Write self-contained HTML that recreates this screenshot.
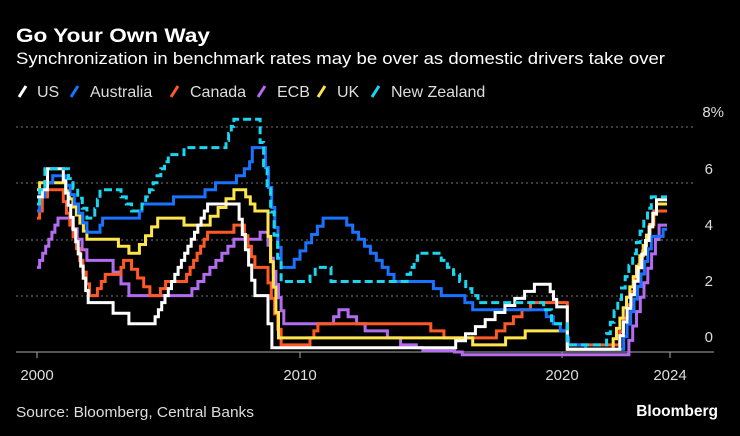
<!DOCTYPE html>
<html><head><meta charset="utf-8"><style>
body{margin:0;background:#000;width:740px;height:436px;overflow:hidden;font-family:"Liberation Sans","DejaVu Sans",sans-serif;color:#fff}
svg{position:absolute;left:0;top:0}
</style></head><body>
<svg id="s" width="740" height="436" xmlns="http://www.w3.org/2000/svg" font-family="Liberation Sans, DejaVu Sans, sans-serif">
<text x="16" y="42" font-size="19" font-weight="bold" fill="#fff" textLength="194" lengthAdjust="spacingAndGlyphs">Go Your Own Way</text>
<text x="16" y="64" font-size="17" fill="#fff" textLength="649" lengthAdjust="spacingAndGlyphs">Synchronization in benchmark rates may be over as domestic drivers take over</text>
<g font-size="16" fill="#ddd">
<line x1="19" y1="97" x2="26" y2="86" stroke="#fff" stroke-width="3"/><text x="37" y="97">US</text>
<line x1="71" y1="97" x2="78" y2="86" stroke="#1a73ff" stroke-width="3"/><text x="90" y="97">Australia</text>
<line x1="171" y1="97" x2="178" y2="86" stroke="#ff5a26" stroke-width="3"/><text x="190" y="97">Canada</text>
<line x1="258" y1="97" x2="265" y2="86" stroke="#b36cf0" stroke-width="3"/><text x="277" y="97">ECB</text>
<line x1="318" y1="97" x2="325" y2="86" stroke="#ffe54d" stroke-width="3"/><text x="337" y="97">UK</text>
<line x1="372" y1="97" x2="379" y2="86" stroke="#1ad6f0" stroke-width="3"/><text x="391" y="97">New Zealand</text>
</g>
<g stroke="#777" stroke-width="1" stroke-dasharray="2,3">
<line x1="16" y1="127" x2="694" y2="127"/><line x1="16" y1="183" x2="694" y2="183"/>
<line x1="16" y1="240" x2="694" y2="240"/><line x1="16" y1="296" x2="694" y2="296"/>
</g>
<g font-size="15" fill="#ddd" text-anchor="end">
<text x="724" y="117">8%</text><text x="713" y="174">6</text><text x="713" y="230">4</text><text x="713" y="286">2</text><text x="713" y="342">0</text>
</g>
<line x1="16" y1="352" x2="714" y2="352" stroke="#aaa" stroke-width="1"/>
<g stroke="#aaa"><line x1="37" y1="352" x2="37" y2="358"/><line x1="300" y1="352" x2="300" y2="358"/><line x1="562" y1="352" x2="562" y2="358"/><line x1="670" y1="352" x2="670" y2="358"/></g>
<g font-size="15" fill="#ddd" text-anchor="middle">
<text x="37" y="380">2000</text><text x="300" y="380">2010</text><text x="562" y="380">2020</text><text x="670" y="380">2024</text>
</g>
<text x="16" y="417" font-size="14.5" fill="#ddd" textLength="238" lengthAdjust="spacingAndGlyphs">Source: Bloomberg, Central Banks</text>
<text x="718" y="416" font-size="15.5" font-weight="bold" fill="#fff" text-anchor="end">Bloomberg</text>
<g id="g" fill="none" stroke-width="3" stroke-linejoin="miter"></g>
</svg>
<script>
function X(t){return 37+(t-2000)*26.25}
function Y(v){return 352-v*28.2}
function build(spec,end){
 var pts=[],cur=null;
 spec.forEach(function(s){
  if(s[0]==="r"){var t0=s[1],t1=s[2],v1=s[3],n=s[4],v0=cur;
   for(var i=1;i<=n;i++){var tt=t0+(t1-t0)*(i-1)/(n-1||1);pts.push([tt,v0+(v1-v0)*i/n]);}
   cur=v1;}
  else{pts.push(s);cur=s[1];}
 });
 var d="";
 for(var i=0;i<pts.length;i++){
  var p=pts[i];
  if(i===0)d+="M"+X(p[0]).toFixed(1)+","+Y(p[1]).toFixed(1);
  else{d+="H"+X(p[0]).toFixed(1)+"V"+Y(p[1]).toFixed(1);}
 }
 d+="H"+X(end).toFixed(1);
 return d;
}
var S={
us:["#fff",false,[[2000,5.5],[2000.2,5.75],[2000.4,6.5],["r",2001,2001.95,1.75,11],["r",2002.9,2003.5,1.0,2],["r",2004.5,2006.5,5.25,17],["r",2007.7,2008.3,2.0,6],[2008.8,1.0],[2008.95,0.15],["r",2015.95,2018.95,2.4,9],["r",2019.55,2019.8,1.6,3],[2020.2,0.1],["r",2022.2,2023.6,5.4,11]]],
au:["#1a73ff",false,[[2000,5.0],[2000.1,5.5],[2000.3,6.0],[2000.6,6.25],["r",2001.1,2001.9,4.25,6],[2002.4,4.5],[2002.5,4.75],[2003.9,5.0],[2004.0,5.25],[2005.2,5.5],[2006.4,5.75],[2006.8,6.0],[2007.6,6.25],[2007.9,6.5],[2008.1,6.75],[2008.2,7.25],["r",2008.7,2009.3,3.0,6],["r",2009.8,2010.9,4.75,6],["r",2011.8,2013.6,2.5,9],[2015.1,2.25],[2015.4,2.0],[2016.3,1.75],[2016.6,1.5],["r",2019.4,2020.2,0.5,4],[2020.25,0.25],[2020.9,0.1],["r",2022.35,2023.4,4.1,9],[2023.85,4.35]]],
ca:["#ff5a26",false,[[2000,4.75],[2000.1,5.0],[2000.2,5.5],[2000.4,5.75],["r",2001.0,2002.0,2.0,9],["r",2002.3,2002.6,2.75,3],[2003.2,3.0],[2003.3,3.25],["r",2003.6,2004.3,2.0,4],["r",2004.7,2004.9,2.5,2],["r",2005.7,2006.5,4.25,7],[2007.5,4.5],["r",2007.9,2008.3,3.0,4],["r",2008.8,2009.3,0.25,5],["r",2010.4,2010.7,1.0,3],[2015.0,0.75],[2015.5,0.5],["r",2017.5,2018.8,1.75,5],[2020.2,0.25],["r",2022.2,2023.5,5.0,10]]],
ecb:["#b36cf0",false,[[2000,3.0],["r",2000.1,2000.8,4.75,7],["r",2001.35,2001.9,3.25,4],["r",2002.9,2003.5,2.0,3],["r",2005.9,2007.5,4.0,8],[2008.5,4.25],["r",2008.8,2009.4,1.0,7],[2011.3,1.25],[2011.5,1.5],["r",2011.85,2012.5,0.75,3],[2013.35,0.5],[2013.85,0.25],[2014.45,0.15],[2014.7,0.05],[2015.9,0.0],[2016.2,-0.1],["r",2022.55,2023.7,4.5,9]]],
uk:["#ffe54d",false,[[2000,5.75],[2000.1,6.0],["r",2001.1,2001.9,4.0,7],[2003.1,3.75],[2003.5,3.5],["r",2003.9,2004.6,4.75,4],[2005.6,4.5],["r",2006.6,2007.5,5.75,4],["r",2007.95,2008.3,5.0,3],["r",2008.8,2009.2,0.5,5],[2016.6,0.25],[2017.85,0.5],[2018.6,0.75],[2020.2,0.1],["r",2021.95,2023.6,5.25,14]]],
nz:["#1ad6f0",true,[[2000,5.25],[2000.1,5.75],[2000.3,6.5],["r",2001.2,2001.9,4.75,5],["r",2002.2,2002.4,5.75,3],["r",2003.2,2003.6,5.0,3],["r",2004.0,2005.0,7.0,8],[2005.6,7.25],["r",2007.2,2007.5,8.25,4],["r",2008.5,2009.3,2.5,7],[2010.4,2.75],[2010.6,3.0],[2011.2,2.5],["r",2014.1,2014.5,3.5,4],["r",2015.4,2016.8,1.75,7],[2019.3,1.5],[2019.6,1.0],[2020.2,0.25],["r",2021.7,2023.4,5.5,13]]]
};
var g=document.getElementById("g"),order=["ecb","ca","uk","au","us","nz"];
order.forEach(function(k){var s=S[k];var p=document.createElementNS("http://www.w3.org/2000/svg","path");
p.setAttribute("d",build(s[2],2024));p.setAttribute("stroke",s[0]);if(s[1])p.setAttribute("stroke-dasharray","8,4");g.appendChild(p);});
</script>
</body></html>
